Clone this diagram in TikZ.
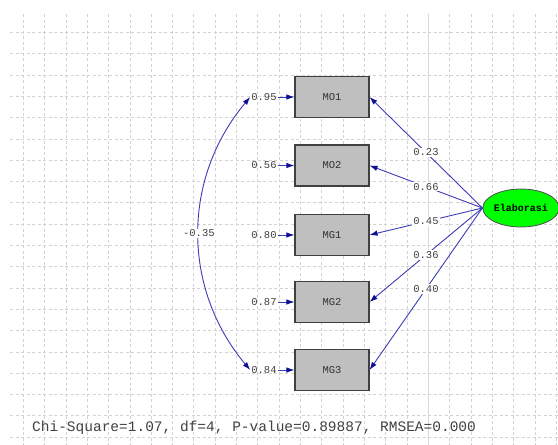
\documentclass[tikz,border=0pt]{standalone}
\usepackage{fontspec}
\setmonofont{Liberation Mono}
\usetikzlibrary{arrows.meta,shapes.geometric}
\definecolor{pathblue}{RGB}{60,60,185}
\definecolor{tipblue}{RGB}{15,15,150}
\begin{document}
\begin{tikzpicture}[x=1pt,y=-1pt,
  gridline/.style={gray!35,dash pattern=on 3pt off 2.5pt,line width=0.5pt},
  var/.style={rectangle,draw=black!75,fill=gray!50,line width=1.1pt,minimum width=74pt,minimum height=41pt,
    font=\ttfamily\fontsize{10.5}{12}\selectfont,text=black!80},
  lat/.style={ellipse,draw=black!70,fill=green,line width=0.8pt,minimum width=66pt,minimum height=38pt,
    inner sep=0pt,font=\ttfamily\bfseries\fontsize{10}{12}\selectfont},
  err/.style={font=\ttfamily\fontsize{10.5}{12}\selectfont,text=black!75,inner sep=1pt},
  coef/.style={font=\ttfamily\fontsize{10.5}{12}\selectfont,text=black!75,fill=white,inner sep=1pt},
  arc/.style={draw=pathblue,line width=0.9pt,-{Latex[length=8pt,width=5.5pt,color=tipblue]}},
  cov/.style={draw=pathblue,line width=0.9pt,{Latex[length=8pt,width=5.5pt,color=tipblue]}-{Latex[length=8pt,width=5.5pt,color=tipblue]}}
]
\useasboundingbox (0,0) rectangle (558,445);
% background grid
\foreach \k in {0,...,25}
  \draw[gridline] ({23.1+21.33*\k},14) -- ({23.1+21.33*\k},445);
\foreach \k in {0,...,19}
  \draw[gridline] (10,{32.3+21.3*\k}) -- (558,{32.3+21.3*\k});
\draw[gray!30,line width=0.8pt] (428,14) -- (428,445);

% observed variables
\node[var] (mo1) at (332,97) {MO1};
\node[var] (mo2) at (332,165.5) {MO2};
\node[var] (mg1) at (332,235) {MG1};
\node[var] (mg2) at (332,302) {MG2};
\node[var] (mg3) at (332,370) {MG3};

% latent variable
\node[lat] (ela) at (521,208) {Elaborasi};

% error variances
\node[err] (e1) at (264,97) {0.95};
\node[err] (e2) at (264,165.5) {0.56};
\node[err] (e3) at (264,235) {0.80};
\node[err] (e4) at (264,302) {0.87};
\node[err] (e5) at (264,370) {0.84};
\draw[arc] (e1) -- (mo1);
\draw[arc] (e2) -- (mo2);
\draw[arc] (e3) -- (mg1);
\draw[arc] (e4) -- (mg2);
\draw[arc] (e5) -- (mg3);

% loadings
\draw[arc] (ela.west) -- node[coef] (l1) {0.23} (mo1.east);
\draw[arc] (ela.west) -- node[coef] (l2) {0.66} (mo2.east);
\draw[arc] (ela.west) -- node[coef] (l3) {0.45} (mg1.east);
\draw[arc] (ela.west) -- node[coef] (l4) {0.36} (mg2.east);
\draw[arc] (ela.west) -- node[coef] (l5) {0.40} (mg3.east);

% error covariance
\draw[cov] (e1.west) to[bend right=40] node[coef] (c1) {-0.35} (e5.west);

% fit statistics
\node[anchor=west,inner sep=0pt,font=\ttfamily\fontsize{14.5}{16}\selectfont,text=black!75] (fit) at (32,428)
  {Chi-Square=1.07, df=4, P-value=0.89887, RMSEA=0.000};
\end{tikzpicture}
\end{document}
